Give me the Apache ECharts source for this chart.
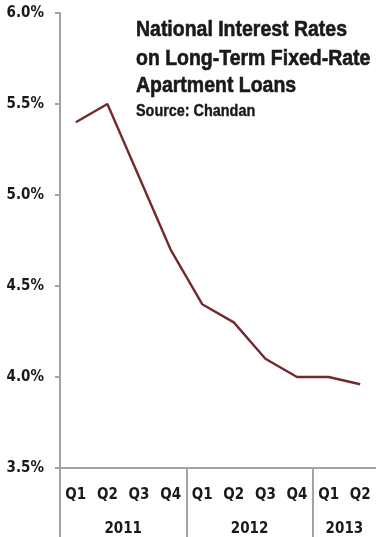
<!DOCTYPE html>
<html>
<head>
<meta charset="utf-8">
<script src="https://cdn.jsdelivr.net/npm/echarts@6/dist/echarts.min.js"></script>
<style>
  html, body { margin: 0; padding: 0; background: #fff; }
  #chart { width: 376px; height: 537px; }
</style>
</head>
<body>
<div id="chart"></div>
<script>
// Quarterly fixed-rate apartment loan rates (%)
const quarters = ['Q1', 'Q2', 'Q3', 'Q4', 'Q1', 'Q2', 'Q3', 'Q4', 'Q1', 'Q2'];
const rates = [5.4, 5.5, 5.1, 4.7, 4.4, 4.3, 4.1, 4.0, 4.0, 3.96];
const years = ['2011', '2012', '2013'];
// year groups on the quarter scale: separators and label centres
const yearBounds = [0, 4, 8];
const yearCenters = [2, 6, 9];
const titleLines = ['National Interest Rates', 'on Long-Term Fixed-Rate', 'Apartment Loans'];
const sourceText = 'Source: Chandan';

const AXIS_FONT = "'DejaVu Sans Condensed', 'Liberation Sans', sans-serif";
const TITLE_FONT = "'Liberation Sans', Arial, sans-serif";
const AXIS_GREY = '#a3a3a3';
const TEXT = '#1a1a1a';

const chart = echarts.init(document.getElementById('chart'), null, { renderer: 'canvas' });

// Narrow heavy heading lines, squeezed horizontally to a condensed look
const titleY = [30, 59, 86];
const heading = titleLines.map(function (line, i) {
  return {
    type: 'text',
    x: 136,
    y: titleY[i],
    scaleX: 0.885,
    style: {
      text: line,
      fill: TEXT,
      stroke: TEXT,
      lineWidth: 0.6,
      font: 'bold 22px ' + TITLE_FONT,
      verticalAlign: 'middle',
      align: 'left'
    }
  };
});
heading.push({
  type: 'text',
  x: 136,
  y: 112,
  scaleX: 0.9,
  style: {
    text: sourceText,
    fill: TEXT,
    stroke: TEXT,
    lineWidth: 0.4,
    font: 'bold 16px ' + TITLE_FONT,
    verticalAlign: 'middle',
    align: 'left'
  }
});

chart.setOption({
  animation: false,
  backgroundColor: '#ffffff',
  graphic: heading,
  grid: { left: 60, top: 13, width: 318, bottom: 66, containLabel: false },
  xAxis: [
    {
      type: 'category',
      data: quarters,
      position: 'bottom',
      boundaryGap: true,
      axisLine: { lineStyle: { color: AXIS_GREY, width: 2 } },
      axisTick: { alignWithLabel: false, interval: 0, length: 37, lineStyle: { color: AXIS_GREY, width: 2 } },
      axisLabel: { interval: 0, margin: 20, fontFamily: AXIS_FONT, fontWeight: 'bold', fontSize: 15, color: TEXT }
    },
    {
      type: 'value',
      min: 0,
      max: 10,
      position: 'bottom',
      splitLine: { show: false },
      axisLine: { show: false },
      axisTick: { show: true, customValues: yearBounds, length: 70, lineStyle: { color: AXIS_GREY, width: 2 } },
      axisLabel: {
        customValues: yearCenters,
        margin: 54,
        fontFamily: AXIS_FONT, fontWeight: 'bold', fontSize: 15, color: TEXT,
        formatter: function (v) { return years[yearCenters.indexOf(v)]; }
      }
    }
  ],
  yAxis: {
    type: 'value',
    min: 3.5,
    max: 6.0,
    interval: 0.5,
    splitLine: { show: false },
    axisLine: { show: true, lineStyle: { color: AXIS_GREY, width: 2 } },
    axisTick: { show: true, length: 5, lineStyle: { color: AXIS_GREY, width: 2 } },
    axisLabel: {
      margin: 16,
      fontFamily: AXIS_FONT, fontWeight: 'bold', fontSize: 15, color: TEXT,
      formatter: function (v) { return v.toFixed(1) + '%'; }
    }
  },
  series: [
    {
      type: 'line',
      data: rates,
      xAxisIndex: 0,
      symbol: 'none',
      lineStyle: { color: '#732a2c', width: 2.4 }
    }
  ]
});
</script>
</body>
</html>
